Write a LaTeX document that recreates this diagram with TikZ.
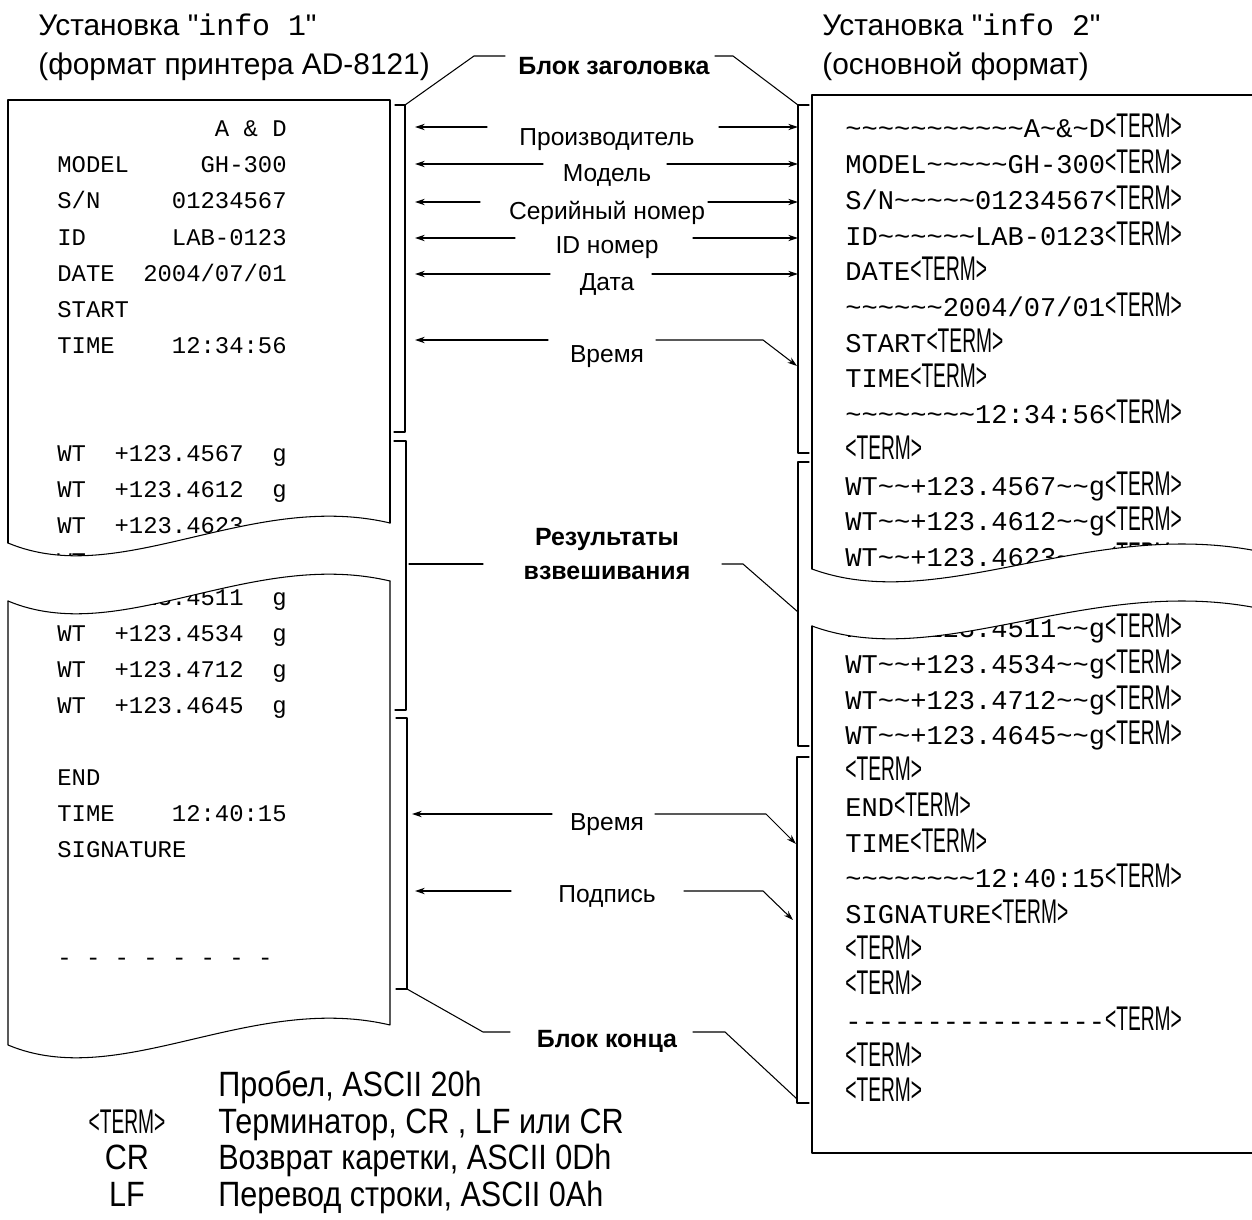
\documentclass[tikz,border=0pt]{standalone}
\usepackage{fontspec}
\setmainfont{Liberation Sans}
\setmonofont{Liberation Mono}
\usepackage{graphicx}
\usetikzlibrary{arrows.meta}
\newcommand\tld{\textasciitilde}
\newcommand\tlds[1]{\ifnum#1>0 \tld\expandafter\tlds\expandafter{\the\numexpr#1-1\relax}\fi}
\newcommand\term{{\rmfamily\fontsize{19.5}{19.5}\selectfont\scalebox{0.56}[1]{<TERM>}}}
\newcommand\narrow[1]{\scalebox{0.87}[1]{#1}}
\begin{document}
\begin{tikzpicture}[x=0.02cm,y=-0.02cm,line join=round,line cap=round,>={Stealth[length=5.5pt,width=3.6pt]},
	paper/.style={line width=0.6pt},
	brk/.style={line width=0.6pt},
	lbl/.style={font=\fontsize{14}{16}\selectfont,inner sep=0pt,anchor=base},
	blk/.style={font=\fontsize{14.2}{19}\selectfont\bfseries,inner sep=0pt,anchor=base,align=center},
	ttl/.style={font=\fontsize{17}{19}\selectfont,inner sep=0pt,anchor=base west},
	lline/.style={font=\fontsize{13.6}{14}\ttfamily,inner sep=0pt},
	rline/.style={font=\fontsize{15.4}{16}\ttfamily,inner sep=0pt,anchor=base west},
	lgd/.style={font=\fontsize{20}{22}\selectfont,inner sep=0pt,anchor=base west}]
	\useasboundingbox (0,0) rectangle (1252,1220);
	% titles
	\node[ttl] (tl1) at (38,36) {Установка \textquotedbl{\ttfamily info 1}\textquotedbl};
	\node[ttl] (tl2) at (38,75) {(формат принтера AD-8121)};
	\node[ttl] (tr1) at (822,36) {Установка \textquotedbl{\ttfamily info 2}\textquotedbl};
	\node[ttl] (tr2) at (822,75) {(основной формат)};
	% left printout
	\foreach \k/\a/\b in {0//{A \& D},1/MODEL/GH-300,2/{S/N}/01234567,3/ID/LAB-0123,4/DATE/{2004/07/01},
		5/START/,6/TIME/12:34:56,9/WT/{+123.4567\ \ g},10/WT/{+123.4612\ \ g},11/WT/{+123.4623\ \ g},12/WT/,
		13/WT/{+123.4511\ \ g},14/WT/{+123.4534\ \ g},15/WT/{+123.4712\ \ g},16/WT/{+123.4645\ \ g},
		18/END/,19/TIME/12:40:15,20/SIGNATURE/,23/{- - - - - - - -}/}{
		\node[lline,anchor=base west] (pa\k) at (57,137+36*\k) {\a};
		\node[lline,anchor=base east] (pb\k) at (287,137+36*\k) {\b};
	}
	% right printout
	\foreach \k/\t in {0/{\tlds{11}A\tld\&\tld D},1/{MODEL\tlds{5}GH-300},2/{S/N\tlds{5}01234567},
		3/{ID\tlds{6}LAB-0123},4/DATE,5/{\tlds{6}2004/07/01},6/START,7/TIME,8/{\tlds{8}12:34:56},9/{},
		10/{WT\tlds{2}+123.4567\tlds{2}g},11/{WT\tlds{2}+123.4612\tlds{2}g},12/{WT\tlds{2}+123.4623\tlds{2}g},
		14/{WT\tlds{2}+123.4511\tlds{2}g},15/{WT\tlds{2}+123.4534\tlds{2}g},16/{WT\tlds{2}+123.4712\tlds{2}g},
		17/{WT\tlds{2}+123.4645\tlds{2}g},18/{},19/END,20/TIME,21/{\tlds{8}12:40:15},22/SIGNATURE,
		23/{},24/{},25/{----------------},26/{},27/{}}{
		\node[rline] (pr\k) at (845,138+35.7*\k) {\t\term};
	}
	% torn gaps
	\fill[white] (8,543) .. controls (120,590) and (250,490) .. (390,523) -- (390,581)
		.. controls (250,548) and (120,648) .. (8,601) -- cycle;
	\fill[white] (812,569) .. controls (940,616) and (1090,516) .. (1262,552) -- (1262,609)
		.. controls (1090,573) and (940,673) .. (812,626) -- cycle;
	% paper edges
	\draw[paper] (8,543) -- (8,100) -- (390,100) -- (390,523);
	\draw[paper] (8,543) .. controls (120,590) and (250,490) .. (390,523);
	\draw[paper] (8,601) .. controls (120,648) and (250,548) .. (390,581);
	\draw[paper] (8,601) -- (8,1045) .. controls (120,1092) and (250,992) .. (390,1025) -- (390,581);
	\draw[paper] (812,569) -- (812,95) -- (1262,95);
	\draw[paper] (812,569) .. controls (940,616) and (1090,516) .. (1262,552);
	\draw[paper] (812,626) .. controls (940,673) and (1090,573) .. (1262,609);
	\draw[paper] (812,626) -- (812,1153) -- (1262,1153);
	% brackets
	\draw[brk] (395,105) -- (405,105) -- (405,432) -- (394,432);
	\draw[brk] (394,441) -- (406,441) -- (406,710) -- (395,710);
	\draw[brk] (396,718) -- (407,718) -- (407,989) -- (396,989);
	\draw[brk] (809,105) -- (798,105) -- (798,453) -- (809,453);
	\draw[brk] (809,462) -- (798,462) -- (798,746) -- (809,746);
	\draw[brk] (809,757) -- (797,757) -- (797,1103) -- (809,1103);
	% block labels
	\node[blk] (hdr) at (614,75) {Блок заголовка};
	\node[blk] (res) at (607,579) {Результаты\\взвешивания};
	\node[blk] (fin) at (607,1047) {Блок конца};
	\draw[brk] (405,105) -- (474,56) -- (505,56);
	\draw[brk] (715,56) -- (733,56) -- (798,105);
	\draw[brk] (409,564) -- (483,564);
	\draw[brk] (722,564) -- (743,564) -- (798,612);
	\draw[brk] (407,989) -- (483,1032) -- (510,1032);
	\draw[brk] (693,1032) -- (725,1032) -- (797,1099);
	% item labels and arrows
	\foreach \n/\txt/\yb/\y/\xa/\xb in {1/Производитель/146/127/487/719,2/Модель/182/164/543/667,
		3/Серийный номер/219/202/480/708,4/ID номер/254/238/515/693,5/Дата/290/274/550/652}{
		\node[lbl] (it\n) at (607,\yb) {\txt};
		\coordinate (al\n) at (\xa,\y);
		\coordinate (ar\n) at (\xb,\y);
		\draw[brk,->] (al\n) -- (415,\y);
		\draw[brk,->] (ar\n) -- (798,\y);
	}
	\node[lbl] (it6) at (607,362) {Время};
	\draw[brk,->] (548,340) -- (415,340);
	\draw[brk,->] (656,340) -- (763,340) -- (797,366);
	\node[lbl] (it7) at (607,830) {Время};
	\draw[brk,->] (552,814) -- (412,814);
	\draw[brk,->] (655,814) -- (766,814) -- (796,844);
	\node[lbl] (it8) at (607,902) {Подпись};
	\draw[brk,->] (511,891) -- (415,891);
	\draw[brk,->] (684,891) -- (763,891) -- (793,920);
	% legend
	\node[lgd] (lg1) at (218,1096) {\narrow{Пробел, ASCII 20h}};
	\node[lgd] (lg2) at (218,1133) {\narrow{Терминатор, CR , LF или CR}};
	\node[lgd] (lg3) at (218,1169) {\narrow{Возврат каретки, ASCII 0Dh}};
	\node[lgd] (lg4) at (218,1206) {\narrow{Перевод строки, ASCII 0Ah}};
	\node[inner sep=0pt,anchor=base] (ky2) at (127,1133) {\term};
	\node[lgd,anchor=base] (ky3) at (127,1169) {\narrow{CR}};
	\node[lgd,anchor=base] (ky4) at (127,1206) {\narrow{LF}};
\end{tikzpicture}
\end{document}
